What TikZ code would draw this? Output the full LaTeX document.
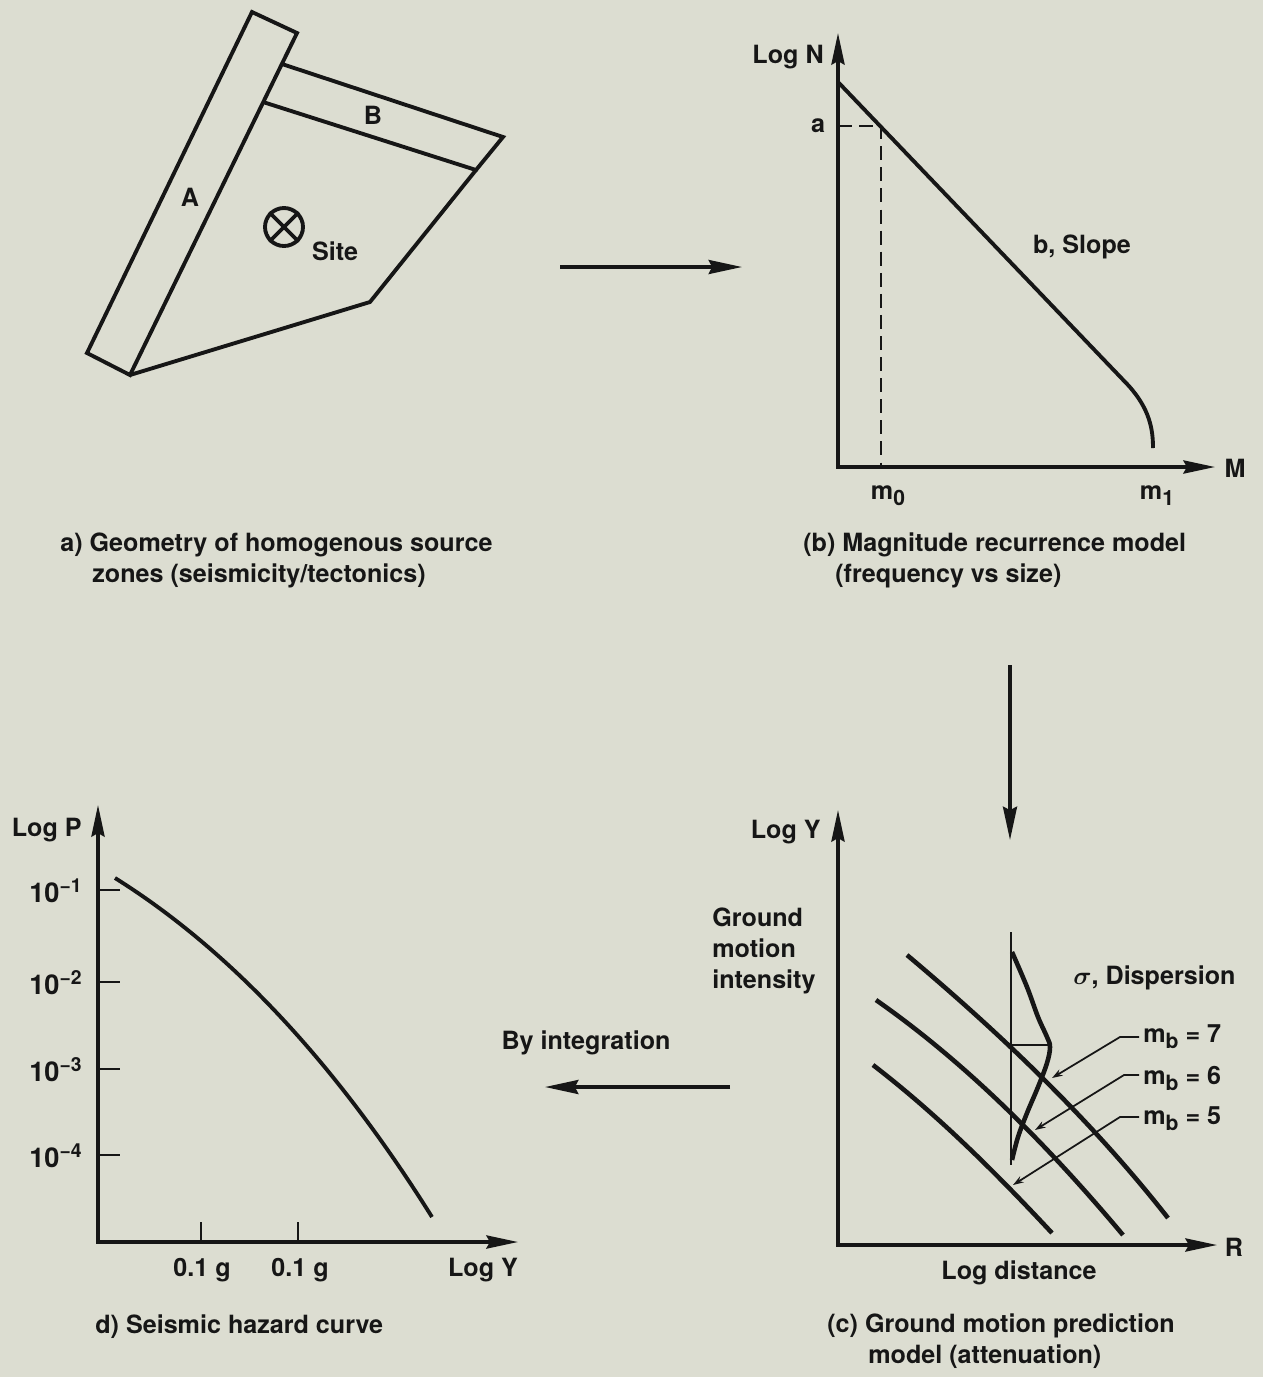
\documentclass[tikz,border=0pt]{standalone}
\usepackage{fontspec}
\setmainfont{TeX Gyre Heros}
\usetikzlibrary{arrows.meta}
\definecolor{bgc}{RGB}{220,221,209}
\definecolor{inkc}{RGB}{22,22,22}
\newcommand\lowsub[1]{\raisebox{-0.5ex}{\fontsize{12}{12}\selectfont #1}}
\newcommand\upsup[1]{\raisebox{5.5pt}{\fontsize{11}{11}\selectfont #1}}
\tikzset{
  zone/.style={draw=inkc, line width=2.2pt, line join=miter},
  crv/.style={draw=inkc, line width=2.6pt},
  axisboth/.style={draw=inkc, line width=1.8pt, {Stealth[length=18pt,width=7.5pt,inset=2pt]}-{Stealth[length=18pt,width=7.5pt,inset=2pt]}},
  flow/.style={draw=inkc, line width=1.8pt, -{Stealth[length=19pt,width=8pt,inset=2pt]}},
  tick/.style={draw=inkc, line width=1.6pt},
  dashl/.style={draw=inkc, line width=1.5pt, dash pattern=on 8pt off 4pt},
  leader/.style={draw=inkc, line width=1pt, -{Stealth[length=6pt,width=4pt]}},
  lbl/.style={font=\bfseries\fontsize{14.3}{17.6}\selectfont, text=inkc, inner sep=0pt},
  biglbl/.style={font=\bfseries\fontsize{15.5}{18}\selectfont, text=inkc, inner sep=0pt},
}
\begin{document}
\begin{tikzpicture}[x=0.02cm,y=-0.02cm]
\fill[bgc] (0,0) rectangle (1263,1377);
\useasboundingbox (0,0) rectangle (1263,1377);

% ---------- panel a ----------
\coordinate (p1) at (252,12);
\coordinate (p2) at (297,33);
\coordinate (p3) at (130,375);
\coordinate (p4) at (87,353);
\coordinate (q1) at (282,64);
\coordinate (q2) at (503,137);
\coordinate (q3) at (476,170);
\coordinate (q4) at (263,102);
\coordinate (r) at (370,302);
\draw[zone] (p1) -- (p2) -- (p3) -- (p4) -- cycle;
\draw[zone] (q1) -- (q2) -- (q3) -- (q4);
\draw[zone] (q3) -- (r) -- (p3);
\node[lbl] (labA) at (190,197) {A};
\node[lbl] (labB) at (373,115) {B};
\node[circle, draw=inkc, line width=2.2pt, minimum size=0.76cm, inner sep=0pt] (site) at (284,227) {};
\draw[zone] (site.north west) -- (site.south east);
\draw[zone] (site.north east) -- (site.south west);
\node[lbl] (sitelbl) at (335,251) {Site};
\node[lbl, anchor=west, align=left] (capa) at (60,560) {a) Geometry of homogenous source\\\hspace*{0.64cm}zones (seismicity/tectonics)};

% flow a -> b
\coordinate (ab1) at (560,267);
\coordinate (ab2) at (742,267);
\draw[flow] (ab1) -- (ab2);

% ---------- panel b ----------
\coordinate (bo) at (838,467);
\coordinate (byt) at (838,33);
\coordinate (bxt) at (1215,467);
\draw[axisboth] (byt) -- (bo) -- (bxt);
\coordinate (bl0) at (838,82);
\coordinate (bl1) at (1128,385);
\coordinate (bl2) at (1153,448);
\draw[zone] (bl0) -- (bl1) .. controls (1150,409) and (1153,430) .. (bl2);
\coordinate (da) at (838,126);
\coordinate (dc) at (881,126);
\coordinate (dm) at (881,467);
\draw[dashl] (da) -- (dc) -- (dm);
\node[lbl, anchor=east] (logn) at (824,57) {Log N};
\node[lbl] (laba) at (818,126) {a};
\node[lbl] (labM) at (1235,468) {M};
\node[lbl] (slope) at (1082,247) {b, Slope};
\node[lbl, anchor=base] (m0) at (888,499) {m\lowsub{0}};
\node[lbl, anchor=base] (m1) at (1157,499) {m\lowsub{1}};
\node[lbl, anchor=west, align=left] (capb) at (803,560) {(b) Magnitude recurrence model\\\hspace*{0.64cm}(frequency vs size)};

% flow b -> c
\coordinate (bc1) at (1010,665);
\coordinate (bc2) at (1010,840);
\draw[flow] (bc1) -- (bc2);

% ---------- panel c ----------
\coordinate (co) at (838,1245);
\coordinate (cyt) at (838,810);
\coordinate (cxt) at (1217,1245);
\draw[axisboth] (cyt) -- (co) -- (cxt);
\node[lbl, anchor=east] (logy) at (821,832) {Log Y};
\node[lbl] (labR) at (1234,1247) {R};
\node[lbl] (logd) at (1019,1273) {Log distance};
\node[lbl, anchor=west, align=left] (gmi) at (712,951) {Ground\\motion\\intensity};
% attenuation curves
\draw[crv] (907,955) .. controls (1001,1034) and (1092,1121) .. (1168,1218);
\draw[crv] (876,1000) .. controls (969,1065) and (1050,1148) .. (1123,1235);
\draw[crv] (873,1065) .. controls (938,1115) and (996,1173) .. (1052,1233);
% dispersion
\coordinate (dv1) at (1011,932);
\coordinate (dv2) at (1011,1165);
\draw[tick] (dv1) -- (dv2);
\draw[crv] plot[smooth, tension=0.6] coordinates {(1012,952) (1027,987) (1038,1017) (1047,1037) (1050,1047) (1047,1063) (1038,1087) (1027,1113) (1018,1137) (1012,1160)};
\coordinate (dh1) at (1011,1045);
\coordinate (dh2) at (1050,1045);
\draw[tick] (dh1) -- (dh2);
\node[lbl, anchor=west] (disp) at (1073,978) {{\boldmath$\sigma$}, Dispersion};
\node[lbl, anchor=base west] (mb7) at (1143,1042) {m\lowsub{b} = 7};
\node[lbl, anchor=base west] (mb6) at (1143,1084) {m\lowsub{b} = 6};
\node[lbl, anchor=base west] (mb5) at (1143,1124) {m\lowsub{b} = 5};
\coordinate (t7) at (1052,1078);
\coordinate (t6) at (1035,1130);
\coordinate (t5) at (1013,1185);
\draw[leader] (1139,1037) -- (1120,1037) -- (t7);
\draw[leader] (1139,1075) -- (1124,1075) -- (t6);
\draw[leader] (1139,1117) -- (1120,1117) -- (t5);
\node[lbl, anchor=west, align=left] (capc) at (827,1341) {(c) Ground motion prediction\\\hspace*{0.82cm}model (attenuation)};

% flow c -> d
\node[lbl] (integ) at (586,1043) {By integration};
\coordinate (cd1) at (730,1087);
\coordinate (cd2) at (545,1087);
\draw[flow] (cd1) -- (cd2);

% ---------- panel d ----------
\coordinate (dO) at (98,1242);
\coordinate (dyt) at (98,805);
\coordinate (dxt) at (518,1242);
\draw[axisboth] (dyt) -- (dO) -- (dxt);
\foreach \yy/\ee in {890/1,982/2,1069/3,1155/4}{
  \draw[tick] (98,\yy) -- (120,\yy);
  \node[biglbl, anchor=base east] (tl\ee) at (82,\yy+12) {10\upsup{−\ee}};
}
\node[lbl, anchor=east] (logp) at (82,830) {Log P};
\draw[tick] (201,1242) -- (201,1222);
\draw[tick] (298,1242) -- (298,1222);
\node[lbl] (g1) at (202,1270) {0.1 g};
\node[lbl] (g2) at (300,1270) {0.1 g};
\node[lbl] (logyd) at (483,1270) {Log Y};
\coordinate (hs) at (115,878);
\coordinate (he) at (432,1217);
\draw[zone] (hs) .. controls (246,960) and (350,1086) .. (he);
\node[lbl, anchor=west] (capd) at (95,1327) {d) Seismic hazard curve};
\end{tikzpicture}
\end{document}
